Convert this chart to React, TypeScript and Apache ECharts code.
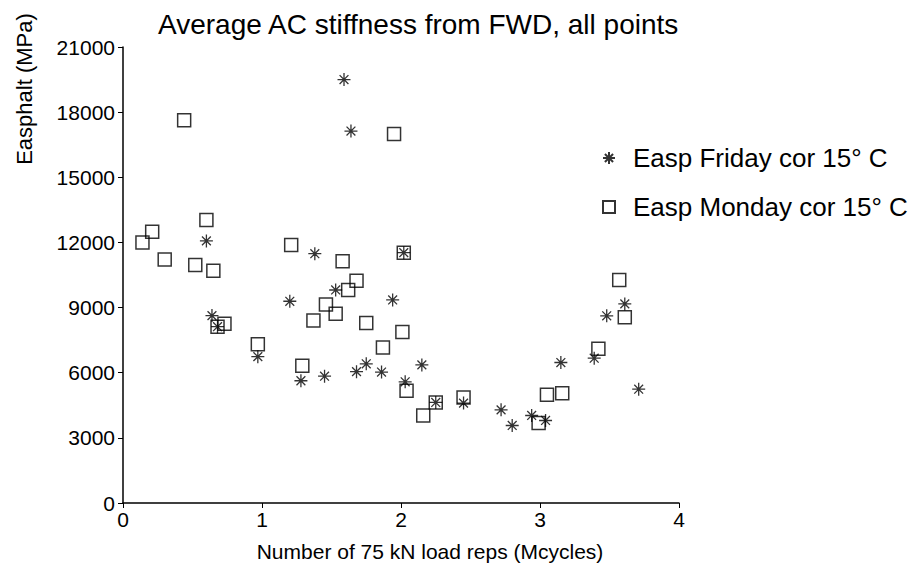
import React, { useEffect, useRef } from "react";
import * as echarts from "echarts";

// Friday FWD back-calculated asphalt stiffness, corrected to 15 °C
const fridayCycles = [
  0.6, 0.64, 0.68, 0.97, 1.2, 1.28, 1.38, 1.45, 1.53, 1.59, 1.64, 1.68, 1.75, 1.86, 1.94,
  2.02, 2.03, 2.15, 2.25, 2.45, 2.72, 2.8, 2.94, 3.04, 3.15, 3.39, 3.48, 3.61, 3.71,
];
const fridayStiffness = [
  12070, 8630, 8120, 6740, 9290, 5630, 11480, 5840, 9810, 19500, 17130, 6050, 6410, 6030, 9350,
  11530, 5580, 6360, 4630, 4600, 4290, 3570, 4030, 3800, 6470, 6670, 8620, 9170, 5240,
];

// Monday FWD back-calculated asphalt stiffness, corrected to 15 °C
const mondayCycles = [
  0.14, 0.21, 0.3, 0.44, 0.52, 0.6, 0.65, 0.68, 0.73, 0.97, 1.21, 1.29, 1.37, 1.46, 1.53, 1.58,
  1.62, 1.68, 1.75, 1.87, 1.95, 2.01, 2.02, 2.04, 2.16, 2.25, 2.45, 2.99, 3.05, 3.16, 3.42, 3.57,
  3.61,
];
const mondayStiffness = [
  12000, 12490, 11210, 17630, 10960, 13030, 10700, 8120, 8250, 7310, 11880, 6320, 8400, 9140, 8710,
  11130, 9810, 10240, 8290, 7160, 16990, 7870, 11530, 5170, 4030, 4630, 4860, 3680, 4980, 5060,
  7100, 10270, 8560,
];

const xTicks = [0, 1, 2, 3, 4];
const yTicks = [0, 3000, 6000, 9000, 12000, 15000, 18000, 21000];

const seriesNames = ["Easp Friday cor 15\u00b0 C", "Easp Monday cor 15\u00b0 C"];
const titleText = "Average AC stiffness from FWD, all points";
const xAxisTitle = "Number of 75 kN load reps (Mcycles)";
const yAxisTitle = "Easphalt (MPa)";

const FONT = '"Liberation Sans", Arial, Helvetica, sans-serif';
const ASTERISK = "path://M5,0L5,10M0,5L10,5M1.6,1.6L8.4,8.4M1.6,8.4L8.4,1.6";

const pairs = (xs: number[], ys: number[]) => xs.map((x, i) => [x, ys[i]]);

export default function App() {
  const ref = useRef<HTMLDivElement>(null);

  useEffect(() => {
    if (!ref.current) return;
    const chart = echarts.init(ref.current, null, { renderer: "svg" });
    const step = yTicks[1] - yTicks[0];
    chart.setOption({
      animation: false,
      backgroundColor: "#ffffff",
      textStyle: { fontFamily: FONT, color: "#000" },
      title: {
        text: titleText,
        left: 153,
        top: 5,
        textStyle: { fontFamily: FONT, fontSize: 28, fontWeight: "normal", color: "#000" },
      },
      legend: {
        orient: "vertical",
        left: 597,
        top: 140,
        itemGap: 23,
        itemWidth: 12,
        itemHeight: 12,
        textStyle: {
          fontFamily: FONT,
          fontSize: 26,
          color: "#000",
          padding: [0, 0, 0, 13],
        },
        data: seriesNames,
      },
      grid: { left: 123, right: 232, top: 47, bottom: 64 },
      xAxis: {
        type: "value",
        min: xTicks[0],
        max: xTicks[xTicks.length - 1],
        interval: xTicks[1] - xTicks[0],
        axisLine: { show: true, lineStyle: { color: "#000", width: 1.5 } },
        axisTick: { show: true, inside: false, length: 5, lineStyle: { color: "#000" } },
        splitLine: { show: false },
        axisLabel: { fontFamily: FONT, fontSize: 21, color: "#000", margin: 6 },
      },
      yAxis: {
        type: "value",
        min: yTicks[0],
        max: yTicks[yTicks.length - 1],
        interval: step,
        axisLine: { show: true, lineStyle: { color: "#000", width: 1.5 } },
        axisTick: { show: true, inside: false, length: 5, lineStyle: { color: "#000" } },
        splitLine: { show: false },
        axisLabel: {
          fontFamily: FONT,
          fontSize: 21,
          color: "#000",
          margin: 8,
          formatter: (v: number) => String(v),
        },
      },
      graphic: [
        {
          type: "text",
          x: 24,
          y: 89,
          rotation: Math.PI / 2,
          style: {
            text: yAxisTitle,
            fontFamily: FONT,
            fontSize: 22,
            fill: "#000",
            align: "center",
            verticalAlign: "middle",
          },
        },
        {
          type: "text",
          x: 430,
          y: 551,
          style: {
            text: xAxisTitle,
            fontFamily: FONT,
            fontSize: 21,
            fill: "#000",
            align: "center",
            verticalAlign: "middle",
          },
        },
      ],
      series: [
        {
          name: seriesNames[0],
          type: "scatter",
          symbol: ASTERISK,
          symbolSize: 13,
          itemStyle: { color: "#000", borderColor: "#000", borderWidth: 1.3 },
          data: pairs(fridayCycles, fridayStiffness),
          z: 3,
        },
        {
          name: seriesNames[1],
          type: "scatter",
          symbol: "rect",
          symbolSize: 13,
          itemStyle: { color: "rgba(0,0,0,0)", borderColor: "#000", borderWidth: 1.5 },
          data: pairs(mondayCycles, mondayStiffness),
          z: 2,
        },
      ],
    });
    return () => chart.dispose();
  }, []);

  return (
    <div
      ref={ref}
      style={{ position: "fixed", left: 0, top: 0, width: 911, height: 567, background: "#fff" }}
    />
  );
}
